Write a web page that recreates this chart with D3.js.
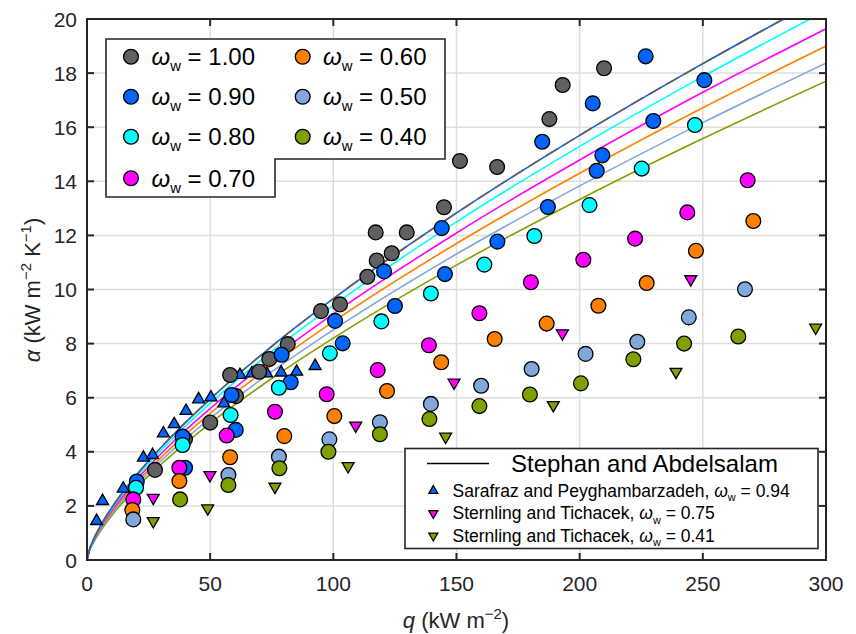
<!DOCTYPE html>
<html><head><meta charset="utf-8">
<script src="https://cdn.jsdelivr.net/npm/d3@7"></script>
<style>body{margin:0;background:#fff}svg{display:block;font-family:"Liberation Sans",Arial,sans-serif}</style>
</head><body><svg id="c" width="856" height="634"></svg>
<script>
// ---- data ----
const xTicks = [0,50,100,150,200,250,300];
const yTicks = [0,2,4,6,8,10,12,14,16,18,20];
const seriesNames = ["1.00","0.90","0.80","0.70","0.60","0.50","0.40"];
const seriesColors = ["#606060","#0064ff","#00ffff","#ff00ff","#ff8000","#80a8dc","#80a000"];

const w100 = [[27.6,3.33],[39.8,4.47],[50,5.08],[58.1,6.84],[60.5,6.06],[69.9,6.96],[74.0,7.43],[81.5,7.98],[95.0,9.2],[102.7,9.45],[113.8,10.47],[117.6,11.07],[117.2,12.11],[123.7,11.34],[129.8,12.11],[144.9,13.04],[151.4,14.75],[166.5,14.53],[187.7,16.30],[193.1,17.56],[209.9,18.18]];
const w090 = [[20.2,2.9],[38.8,4.56],[39.8,3.41],[58.7,6.1],[60.4,4.81],[79.0,7.59],[82.7,6.57],[100.7,8.84],[103.8,8.01],[120.6,10.67],[125.0,9.39],[144.0,12.27],[145.3,10.57],[166.6,11.77],[184.8,15.46],[187.1,13.05],[205.3,16.88],[206.9,14.39],[209.2,14.96],[226.8,18.62],[229.9,16.23],[250.6,17.74]];
const w080 = [[19.9,2.67],[38.8,4.25],[58.3,5.36],[77.9,6.37],[98.6,7.64],[119.5,8.82],[139.6,9.85],[161.3,10.92],[181.6,11.98],[204.0,13.12],[225.2,14.47],[246.8,16.08]];
const w070 = [[18.8,2.24],[37.5,3.41],[56.7,4.6],[76.3,5.48],[97.3,6.13],[118.0,7.02],[138.8,7.94],[159.3,9.12],[180.2,10.27],[201.5,11.10],[222.5,11.88],[243.7,12.85],[268.2,14.04]];
const w060 = [[18.4,1.85],[37.5,2.92],[58.1,3.80],[80.1,4.58],[100.4,5.32],[121.8,6.25],[143.8,7.31],[165.5,8.17],[186.6,8.74],[207.6,9.40],[227.2,10.24],[247.2,11.43],[270.5,12.53]];
const w050 = [[18.8,1.50],[57.4,3.14],[77.9,3.82],[98.4,4.46],[118.9,5.09],[139.6,5.77],[160.0,6.44],[180.5,7.06],[202.4,7.62],[223.4,8.07],[244.3,8.97],[267.1,10.01]];
const w040 = [[37.8,2.24],[57.4,2.77],[78.1,3.39],[98.0,4.0],[118.9,4.65],[139.0,5.21],[159.3,5.69],[179.8,6.12],[200.5,6.53],[221.8,7.42],[242.4,8.0],[264.4,8.26]];

const sarafraz094 = [[3.9,1.44],[6.3,2.18],[14.7,2.64],[22.9,3.78],[26.6,3.88],[31.0,4.68],[35.4,5.02],[40.2,5.51],[45.3,5.94],[50.3,6.01],[55.6,5.79],[62.1,6.84],[66.9,6.9],[72.9,6.9],[78.8,6.93],[85.1,6.96],[92.6,7.17]];
const sternling075 = [[26.9,2.30],[49.9,3.14],[109.1,4.97],[149.0,6.56],[193.0,8.38],[245.1,10.38]];
const sternling041 = [[26.9,1.44],[49.0,1.91],[76.3,2.71],[106.0,3.47],[145.6,4.56],[189.3,5.73],[239.1,6.96],[295.8,8.59]];

// Stephan and Abdelsalam correlation
const curveQ    = [0,1,3,6,10,20,35,50,75,100,150,200,250,300];
const curve100  = [0,0.38,0.83,1.35,1.93,3.13,4.63,5.95,7.90,9.66,12.83,15.70,18.35,20.85];
const curve090  = [0,0.38,0.83,1.35,1.93,3.13,4.63,5.95,7.90,9.66,12.83,15.70,18.35,20.85];
const curve080  = [0,0.37,0.81,1.31,1.88,3.05,4.51,5.79,7.70,9.41,12.50,15.29,17.87,20.31];
const curve070  = [0,0.36,0.78,1.27,1.82,2.95,4.37,5.60,7.44,9.10,12.09,14.79,17.29,19.64];
const curve060  = [0,0.35,0.76,1.23,1.76,2.85,4.22,5.42,7.20,8.81,11.70,14.30,16.72,19.00];
const curve050  = [0,0.34,0.73,1.19,1.70,2.76,4.08,5.24,6.96,8.51,11.31,13.83,16.17,18.37];
const curve040  = [0,0.33,0.70,1.14,1.64,2.66,3.93,5.05,6.71,8.20,10.90,13.33,15.58,17.70];

// ---- drawing ----
const svg = d3.select("#c");
const L=87,R=826,T=19,B=560;
const x = d3.scaleLinear().domain([0,300]).range([L,R]);
const y = d3.scaleLinear().domain([0,20]).range([B,T]);
const axisCol = "#262626";

svg.append("defs").append("clipPath").attr("id","clip")
  .append("rect").attr("x",L).attr("y",T).attr("width",R-L).attr("height",B-T);

// grid
const g = svg.append("g");
g.selectAll(".gx").data(xTicks).join("line").attr("x1",d=>x(d)).attr("x2",d=>x(d)).attr("y1",T).attr("y2",B)
  .attr("stroke","#dedede").attr("stroke-width",1.5);
g.selectAll(".gy").data(yTicks).join("line").attr("y1",d=>y(d)).attr("y2",d=>y(d)).attr("x1",L).attr("x2",R)
  .attr("stroke","#dedede").attr("stroke-width",1.5);

// curves
const curves = [curve100,curve090,curve080,curve070,curve060,curve050,curve040];
const line = d3.line().x(d=>x(d[0])).y(d=>y(d[1])).curve(d3.curveMonotoneX);
const cg = svg.append("g").attr("clip-path","url(#clip)");
const order = [6,5,4,3,2,1,0];
order.forEach(i=>{
  const pts = curveQ.map((q,j)=>[q,curves[i][j]]);
  const p = cg.append("path").attr("d",line(pts)).attr("fill","none")
    .attr("stroke",seriesColors[i]).attr("stroke-width",1.6);
  if(i===0) p.attr("stroke-dasharray","14,6");
});

// triangles (beneath circles)
const triUp = d3.symbol().type(d3.symbolTriangle).size(62);
function tri(data,color,down){
  svg.append("g").selectAll("path").data(data).join("path")
    .attr("d",triUp())
    .attr("transform",d=>`translate(${x(d[0])},${y(d[1])})${down?" rotate(180)":""}`)
    .attr("fill",color).attr("stroke","#000").attr("stroke-width",1.3);
}
tri(sarafraz094,"#0064ff",false);
tri(sternling075,"#ff00ff",true);
tri(sternling041,"#80a000",true);

// circles
const allSeries = [w100,w090,w080,w070,w060,w050,w040];
allSeries.forEach((s,i)=>{
  svg.append("g").selectAll("circle").data(s).join("circle")
    .attr("cx",d=>x(d[0])).attr("cy",d=>y(d[1])).attr("r",7.4)
    .attr("fill",seriesColors[i]).attr("stroke","#000").attr("stroke-width",1.3);
});

// frame and ticks
svg.append("rect").attr("x",L).attr("y",T).attr("width",R-L).attr("height",B-T)
  .attr("fill","none").attr("stroke",axisCol).attr("stroke-width",2);
const tk = svg.append("g").attr("stroke",axisCol).attr("stroke-width",2);
xTicks.forEach(t=>{
  tk.append("line").attr("x1",x(t)).attr("x2",x(t)).attr("y1",B).attr("y2",B-7);
  tk.append("line").attr("x1",x(t)).attr("x2",x(t)).attr("y1",T).attr("y2",T+7);
});
yTicks.forEach(t=>{
  tk.append("line").attr("y1",y(t)).attr("y2",y(t)).attr("x1",L).attr("x2",L+7);
  tk.append("line").attr("y1",y(t)).attr("y2",y(t)).attr("x1",R).attr("x2",R-7);
});

// tick labels
svg.append("g").selectAll("text").data(xTicks).join("text")
  .attr("x",d=>x(d)).attr("y",591).attr("text-anchor","middle")
  .attr("font-size",21).attr("fill",axisCol).text(d=>d);
svg.append("g").selectAll("text").data(yTicks).join("text")
  .attr("x",77).attr("y",d=>y(d)+7.5).attr("text-anchor","end")
  .attr("font-size",21).attr("fill",axisCol).text(d=>d);

// axis titles
const xt = svg.append("text").attr("x",456).attr("y",628).attr("text-anchor","middle")
  .attr("font-size",22).attr("fill",axisCol);
xt.append("tspan").attr("font-style","italic").text("q");
xt.append("tspan").text(" (kW m");
xt.append("tspan").attr("dy",-9).attr("font-size",15).text("−2");
xt.append("tspan").attr("dy",9).text(")");

const yt = svg.append("text").attr("transform","translate(40,290) rotate(-90)").attr("text-anchor","middle")
  .attr("font-size",22).attr("fill",axisCol);
yt.append("tspan").attr("font-style","italic").text("α");
yt.append("tspan").text(" (kW m");
yt.append("tspan").attr("dy",-9).attr("font-size",15).text("−2");
yt.append("tspan").attr("dy",9).text(" K");
yt.append("tspan").attr("dy",-9).attr("font-size",15).text("−1");
yt.append("tspan").attr("dy",9).text(")");

function omegaLabel(sel, value, fs, sub){
  sel.append("tspan").attr("font-style","italic").text("ω");
  sel.append("tspan").attr("dy",sub).attr("font-size",fs*0.62).text("w");
  sel.append("tspan").attr("dy",-sub).text(" = "+value);
}

// legend 1
svg.append("path").attr("d","M106,39 H445 V159 H275 V197 H106 Z")
  .attr("fill","#fff").attr("stroke",axisCol).attr("stroke-width",1.6);
const lx = [131,302.7], tx=[151.5,323], ly=[56.7,96.7,136.7,178.3];
seriesNames.forEach((n,i)=>{
  const col = i<4?0:1, row = i<4?i:i-4;
  svg.append("circle").attr("cx",lx[col]).attr("cy",ly[row]).attr("r",7.4)
    .attr("fill",seriesColors[i]).attr("stroke","#000").attr("stroke-width",1.3);
  const t = svg.append("text").attr("x",tx[col]).attr("y",ly[row]+8.5).attr("font-size",24).attr("fill","#000");
  omegaLabel(t,n,24,6);
});

// legend 2
svg.append("rect").attr("x",405).attr("y",448.5).attr("width",413).attr("height",100)
  .attr("fill","#fff").attr("stroke",axisCol).attr("stroke-width",1.6);
svg.append("line").attr("x1",427).attr("x2",489).attr("y1",463.5).attr("y2",463.5).attr("stroke","#000").attr("stroke-width",1.5);
svg.append("text").attr("x",511).attr("y",472).attr("font-size",24).attr("fill","#000").text("Stephan and Abdelsalam");
const l2 = [["Sarafraz and Peyghambarzadeh, ","0.94","#0064ff",false],["Sternling and Tichacek, ","0.75","#ff00ff",true],["Sternling and Tichacek, ","0.41","#80a000",true]];
const triS = d3.symbol().type(d3.symbolTriangle).size(36);
l2.forEach((d,i)=>{
  const yy = [490.7,513.3,535.7][i];
  svg.append("path").attr("d",triS()).attr("transform",`translate(433.3,${yy})${d[3]?" rotate(180)":""}`)
    .attr("fill",d[2]).attr("stroke","#000").attr("stroke-width",1.2);
  const t = svg.append("text").attr("x",452.5).attr("y",yy+6).attr("font-size",17.5).attr("fill","#000");
  t.append("tspan").text(d[0]);
  omegaLabel(t,d[1],17.5,4.5);
});
</script></body></html>
